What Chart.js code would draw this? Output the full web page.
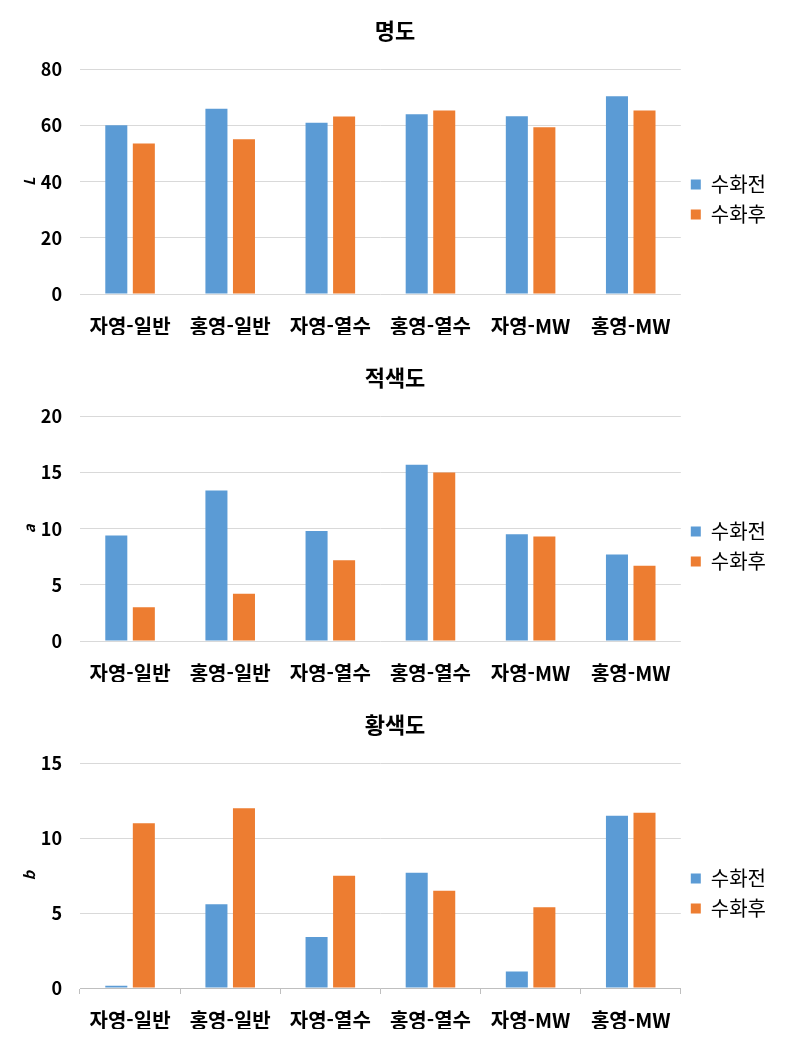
<!DOCTYPE html>
<html lang="ko">
<head>
  <meta charset="utf-8">
  <title>명도 / 적색도 / 황색도</title>
  <script src="https://cdn.jsdelivr.net/npm/chart.js@4/dist/chart.umd.min.js"></script>
  <style>
    html, body { margin: 0; padding: 0; background: #fff; }
    .box { width: 785px; height: 347px; }
  </style>
</head>
<body>
<div class="box"><canvas id="chartL" width="785" height="347"></canvas></div>
<div class="box"><canvas id="chartA" width="785" height="347"></canvas></div>
<div class="box"><canvas id="chartB" width="785" height="347"></canvas></div>

<script type="text/javascript">
// 데이터
var categories = ['자영-일반', '홍영-일반', '자영-열수', '홍영-열수', '자영-MW', '홍영-MW'];
var seriesNames = ['수화전', '수화후'];

var lBefore = [60.1, 66.0, 61.0, 64.0, 63.3, 70.4];
var lAfter  = [53.6, 55.1, 63.2, 65.4, 59.4, 65.4];

var aBefore = [9.4, 13.4, 9.8, 15.7, 9.5, 7.7];
var aAfter  = [3.0, 4.2, 7.2, 15.0, 9.3, 6.7];

var bBefore = [0.15, 5.6, 3.4, 7.7, 1.1, 11.5];
var bAfter  = [11.0, 12.0, 7.5, 6.5, 5.4, 11.7];

var FONT = "'Noto Sans CJK KR', 'Noto Sans', sans-serif";
var BLUE = '#5b9bd5', ORANGE = '#ed7d31', GRID = '#d9d9d9';

function makeChart(id, title, axisTitle, before, after, yMax, yStep, axisTicks) {
    var ctx = document.getElementById(id).getContext('2d');
    return new Chart(ctx, {
        type: 'bar',
        data: {
            labels: categories,
            datasets: [
                { label: seriesNames[0], data: before, backgroundColor: BLUE },
                { label: seriesNames[1], data: after, backgroundColor: ORANGE }
            ]
        },
        options: {
            responsive: false,
            animation: false,
            layout: { padding: { top: 10, right: 9, bottom: 12, left: 14 } },
            datasets: { bar: { barPercentage: 0.8, categoryPercentage: 0.55 } },
            plugins: {
                title: {
                    display: true, text: title, color: '#000',
                    font: { family: FONT, size: 22, weight: 'bold', lineHeight: 1.2 },
                    padding: { top: 7, bottom: 26 }
                },
                legend: {
                    position: 'right',
                    // 빈 제목으로 범례를 아래로 조금 내림
                    title: { display: true, text: ' ', padding: 0, font: { size: 45, lineHeight: 1.2 } },
                    labels: {
                        color: '#000', boxWidth: 10, boxHeight: 10, padding: 10,
                        font: { family: FONT, size: 20 }
                    }
                },
                tooltip: { enabled: false }
            },
            scales: {
                x: {
                    grid: axisTicks
                        ? { display: true, drawOnChartArea: false, drawTicks: true, tickLength: 6, color: '#bfbfbf', offset: true }
                        : { display: false, drawTicks: false },
                    border: { display: axisTicks, color: '#bfbfbf' },
                    ticks: {
                        color: '#000', padding: axisTicks ? 14 : 20, maxRotation: 0,
                        font: { family: FONT, size: 20, weight: 'bold' }
                    },
                    afterFit: function(scale) { scale.height = 41; }
                },
                y: {
                    min: 0, max: yMax,
                    grid: { color: GRID, drawTicks: false },
                    border: { display: false },
                    ticks: {
                        stepSize: yStep, color: '#000', padding: 18,
                        font: { family: FONT, size: 18, weight: 'bold' }
                    },
                    title: {
                        display: true, text: axisTitle, color: '#000',
                        font: { family: FONT, size: 15, weight: 'bold', style: 'italic' },
                        padding: { top: 6, bottom: 4 }
                    },
                    afterFit: function(scale) { scale.width = 66; }
                }
            }
        }
    });
}

makeChart('chartL', '명도', 'L', lBefore, lAfter, 80, 20, false);
makeChart('chartA', '적색도', 'a', aBefore, aAfter, 20, 5, false);
makeChart('chartB', '황색도', 'b', bBefore, bAfter, 15, 5, true);
</script>
</body>
</html>
